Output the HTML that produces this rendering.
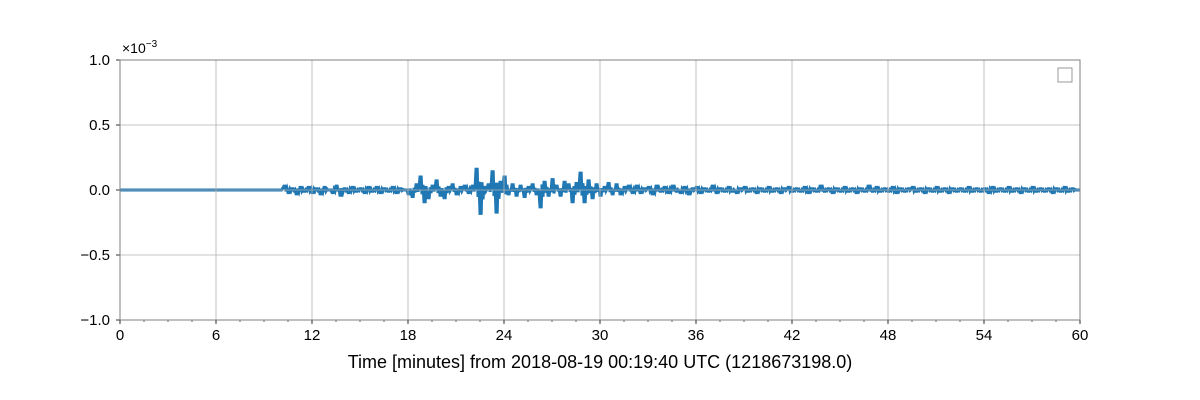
<!DOCTYPE html>
<html><head><meta charset="utf-8"><style>
body{margin:0;background:#fff;}
svg{display:block;font-family:"Liberation Sans",sans-serif;}
</style></head><body>
<svg id="chart" width="1200" height="400"></svg>
<script>
const xTickLabels=["0","6","12","18","24","30","36","42","48","54","60"];
const yTickValues=[1.0,0.5,0.0,-0.5,-1.0];
const yTickLabels=["1.0","0.5","0.0","\u22120.5","\u22121.0"];
const startMinute=10.25;
const stepMinute=0.25;
// values in units of 1e-5 (displayed axis ×1e-3)
const seriesValues=[
3,-2,1,
-3,2,-1,2,
-2,1,-3,2,
0,-2,3,-4,
1,-2,2,-1,
1,-2,2,-1,
2,-2,1,-1,
2,-2,1,0,
-3,-5,4,10,
-9,-6,3,7,
-4,-6,2,4,
-3,2,3,-2,
3,16,-18,2,
4,14,-17,6,
10,-3,4,-4,
3,-5,2,4,
-3,-13,6,-4,
8,3,-4,6,
4,-9,5,13,
-9,7,-6,4,
-4,2,5,-3,
4,-3,2,3,
-2,3,-2,1,
2,-3,3,-1,
2,-2,3,-1,
-2,2,-3,1,
2,-2,1,-1,
3,-2,1,-1,
2,-1,-2,1,
2,-1,1,-2,
1,-1,2,-1,
1,-2,1,2,
-1,1,-1,2,
-2,1,-1,3,
-1,1,-2,1,
-1,2,-1,1,
-2,1,-1,3,
-1,2,-1,1,
-1,2,-2,1,
-1,1,2,-1,
1,-2,1,-1,
2,-1,1,-2,
1,-1,1,-1,
2,-1,1,-1,
1,-2,2,-1,
1,-1,2,-1,
1,-2,1,-1,
2,-1,1,-1,
1,-2,1,-1,
2,-1,1,0
];
const svg=document.getElementById('chart');
const NS='http://www.w3.org/2000/svg';
const X0=120,X1=1080,Y0=60,Y1=320;
const xs=m=>X0+(m/60)*(X1-X0);
const ys=v=>Y0+(1-v)/2*(Y1-Y0);
function el(t,a,p){const e=document.createElementNS(NS,t);for(const k in a)e.setAttribute(k,a[k]);(p||svg).appendChild(e);return e;}
let d='M'+xs(0)+','+ys(0)+' L'+xs(10.1)+','+ys(0);
seriesValues.forEach((v,i)=>{const m=startMinute+i*stepMinute;const y=ys(v/100);
d+=' L'+xs(m)+','+y+' L'+xs(m+stepMinute*0.3)+','+y;
d+=' L'+xs(m+stepMinute*0.5)+','+ys(-v/300)+' L'+xs(m+stepMinute*0.75)+','+ys(v/250);});
d+=' L'+xs(60)+','+ys(0);
const line=el('path',{d:d,fill:'none',stroke:'#1f77b4','stroke-width':3,'stroke-linejoin':'miter'});


xTickLabels.forEach((t,i)=>{const x=xs(+t);
const g=el('line',{x1:x,x2:x,y1:Y0,y2:Y1,stroke:'#b0b0b0','stroke-width':0.8});


el('line',{x1:x,x2:x,y1:Y1,y2:Y1+4,stroke:'#000','stroke-width':0.8});
const tx=el('text',{x:x,y:Y1+20,'text-anchor':'middle','font-size':15,fill:'#000'});tx.textContent=t;


});
for(let m=0;m<=60;m+=1.5){const x=xs(m);el('line',{x1:x,x2:x,y1:Y1,y2:Y1+2,stroke:'#000','stroke-width':0.6});}
yTickValues.forEach((v,i)=>{const y=ys(v);
const g=el('line',{x1:X0,x2:X1,y1:y,y2:y,stroke:'#b0b0b0','stroke-width':0.8});


el('line',{x1:X0-4,x2:X0,y1:y,y2:y,stroke:'#000','stroke-width':0.8});
const tx=el('text',{x:X0-10,y:y+5,'text-anchor':'end','font-size':15,fill:'#000'});tx.textContent=yTickLabels[i];


});
const fr=el('rect',{x:X0,y:Y0,width:X1-X0,height:Y1-Y0,fill:'none',stroke:'#808080','stroke-width':1});


const ex=el('text',{x:122,y:53,'font-size':14,fill:'#000'});ex.innerHTML='×10<tspan dy="-6" font-size="10">−3</tspan>';


const lg=el('rect',{x:1058,y:68,width:14,height:14,fill:'#fff',stroke:'#999','stroke-width':1});


const xl=el('text',{x:600,y:368,'text-anchor':'middle','font-size':18,fill:'#000'});xl.textContent='Time [minutes] from 2018-08-19 00:19:40 UTC (1218673198.0)';


</script>
</body></html>
